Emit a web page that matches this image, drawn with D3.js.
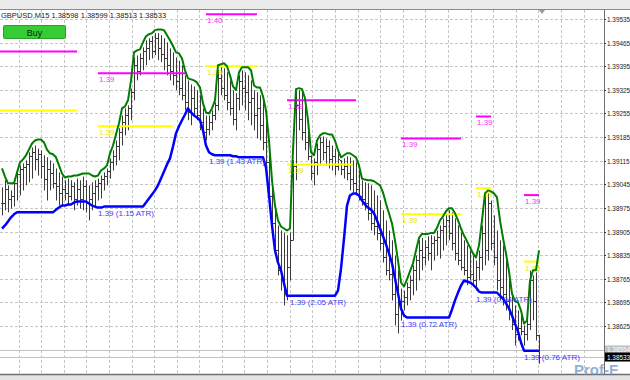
<!DOCTYPE html>
<html>
<head>
<meta charset="utf-8">
<script src="https://cdn.jsdelivr.net/npm/d3@7"></script>
<style>
  body { margin: 0; background: #fff; }
  svg { display: block; font-family: "Liberation Sans", Arial, sans-serif; }
</style>
</head>
<body>
<script>
// all prices below are in points above 1.38000 (1 point = 0.00001)
var base = 1.38;

var tickLabels = ["1.39535","1.39465","1.39395","1.39325","1.39255","1.39185","1.39115",
                  "1.39045","1.38975","1.38905","1.38835","1.38765","1.38695","1.38625"];

var title = "GBPUSD,M15  1.38598 1.38599 1.38513 1.38533";
var bidPrice = 533, askPrice = 554;

// bar highs / lows / closes, one per M15 bar
var highs = [1036,1057,1042,1027,1062,1086,1101,1107,1116,1140,
1154,1160,1151,1146,1131,1125,1116,1107,1092,1080,
1068,1057,1062,1057,1051,1062,1057,1068,1057,1042,
1051,1057,1062,1071,1080,1092,1122,1146,1175,1211,
1249,1270,1279,1329,1421,1427,1433,1451,1472,1478,
1484,1493,1493,1487,1478,1466,1448,1436,1421,1411,
1398,1368,1353,1341,1335,1324,1309,1270,1249,1249,
1264,1288,1383,1392,1389,1377,1353,1324,1315,1368,
1383,1377,1368,1353,1324,1318,1309,1294,1235,1146,
1042,968,923,908,902,894,902,1116,1318,1324,
1318,1279,1220,1131,1122,1166,1184,1187,1181,1175,
1160,1151,1140,1116,1122,1128,1125,1116,1110,1086,
1057,1051,1048,1042,1027,1012,997,968,938,908,
879,834,790,736,730,754,775,805,834,879,
886,879,891,894,891,908,923,944,959,968,
962,944,923,902,879,864,849,834,819,849,
923,1012,1018,997,953,908,879,864,819,775,
715,686,671,656,627,641,790,775,784,599];

var lows = [953,968,962,973,979,997,1012,1027,1042,1051,
1062,1086,1071,1062,1027,997,1027,1033,997,982,
982,997,982,997,968,982,973,968,962,938,
968,976,997,1003,1027,1042,1062,1086,1101,1116,
1160,1190,1205,1235,1294,1353,1368,1383,1398,1413,
1418,1428,1413,1407,1383,1368,1353,1338,1324,1309,
1294,1264,1235,1220,1249,1235,1205,1190,1175,1190,
1205,1235,1264,1309,1294,1264,1249,1220,1205,1264,
1279,1264,1235,1220,1205,1181,1175,1146,1101,997,
908,834,775,730,686,701,760,879,1057,1205,
1175,1146,1116,1057,1042,1072,1101,1116,1101,1092,
1086,1072,1086,1072,1062,1057,1027,1021,1012,997,
982,968,938,908,894,879,849,813,775,760,
701,627,603,641,671,686,701,716,730,760,
790,805,819,790,819,834,825,849,864,879,
849,819,805,790,775,746,760,746,730,760,
790,805,819,849,805,730,701,686,671,642,
613,567,582,597,567,582,613,642,582,513];

var closes = [990,1030,1000,1010,1050,1075,1090,1095,1105,1130,
1140,1120,1135,1100,1060,1090,1080,1050,1040,1020,
1030,1020,1010,1040,1000,1030,1000,1040,990,1000,
1020,1040,1050,1060,1070,1085,1110,1130,1160,1200,
1230,1250,1270,1320,1400,1380,1420,1440,1450,1470,
1440,1480,1450,1430,1420,1400,1380,1370,1350,1330,
1310,1290,1260,1300,1270,1250,1230,1200,1210,1230,
1250,1280,1360,1330,1310,1290,1270,1240,1300,1350,
1330,1320,1290,1300,1250,1270,1220,1170,1110,1010,
930,850,790,760,720,800,880,1100,1280,1240,
1200,1170,1130,1080,1110,1150,1170,1140,1160,1120,
1130,1100,1120,1090,1100,1080,1060,1050,1030,1010,
1000,990,960,930,920,900,870,830,790,780,
720,660,700,700,710,740,760,790,820,850,
830,860,840,870,880,890,910,920,940,900,
870,840,820,800,790,770,780,760,800,830,
900,850,990,870,830,760,740,720,700,660,
630,600,620,610,600,630,760,700,598,533];

// upper (green) and lower (blue) trailing lines
var greenLine = [1092,1068,1048,1048,1048,1080,1110,1119,1131,1148,
1166,1175,1178,1178,1169,1148,1137,1134,1125,1101,
1077,1065,1068,1068,1071,1071,1074,1077,1077,1077,
1071,1068,1071,1086,1092,1101,1137,1160,1193,1226,
1270,1276,1294,1353,1436,1442,1445,1466,1484,1490,
1493,1502,1504,1504,1502,1487,1472,1455,1436,1433,
1418,1383,1359,1356,1353,1347,1332,1285,1258,1255,
1270,1294,1398,1401,1404,1395,1368,1335,1324,1377,
1392,1392,1392,1383,1338,1332,1332,1306,1264,1175,
1057,982,938,920,914,908,914,1146,1327,1330,
1327,1300,1235,1140,1131,1175,1190,1196,1196,1193,
1193,1175,1146,1125,1131,1137,1137,1131,1125,1101,
1062,1059,1057,1057,1054,1048,1042,1021,988,959,
929,879,819,754,742,763,787,811,849,886,
898,898,898,901,901,916,938,950,965,974,
974,959,938,914,893,876,858,840,828,864,
938,1018,1027,1024,1018,1006,938,886,840,787,
721,698,695,671,632,641,760,790,790,849];

var blueLine = [914,923,935,947,956,962,962,962,962,962,
962,962,962,962,962,962,962,962,970,976,
982,982,985,985,991,994,994,994,994,988,
982,979,976,976,979,979,979,979,979,979,
979,979,979,979,979,979,979,979,991,1003,
1015,1027,1042,1062,1083,1104,1122,1157,1196,1217,
1235,1252,1270,1258,1249,1243,1235,1205,1160,1140,
1134,1131,1131,1131,1131,1131,1131,1128,1128,1125,
1125,1125,1125,1125,1125,1125,1125,1125,1095,1012,
923,849,813,790,751,715,715,715,715,715,
715,715,715,715,715,715,715,715,715,715,
715,715,730,795,884,982,1012,1018,1018,1012,
997,985,976,970,959,938,914,891,867,840,
811,766,721,677,656,650,650,650,650,650,
650,650,650,650,650,650,650,650,650,650,
674,701,724,745,760,757,754,748,739,727,
724,724,724,724,724,724,715,706,692,677,
656,632,609,576,552,552,552,552,552,552];

// level objects (bar index from / to)
var levelFrom = [-1, 32, 68, 95, 133, 158, 174];
var magentaTo = [25, 61, 85, 118, 153, 163, 179];
var yellowTo = [25, 57, 85, 117, 153, 163, 179];
var magentaLevels = [1439, 1374, 1549, 1294, 1181, 1246, 1013];
var yellowLevels = [1264, 1217, 1395, 1104, 956, 1033, 816];
var magentaText = ["", "1.39", "1.40", "1.39", "1.39", "1.39", "1.39"];
var yellowText = ["", "1.39", "1.39", "1.39", "1.39", "1.39", "1.39"];

// stop labels under the blue line
var atrIndex = [32, 69, 96, 133, 158, 174];
var atrLevel = [979, 1131, 715, 650, 724, 552];
var atrText = ["1.39 (1.15 ATR)", "1.39 (1.43 ATR)", "1.39 (2.05 ATR)",
               "1.39 (0.72 ATR)", "1.39 (0.94 ATR)", "1.39 (0.76 ATR)"];

var W = 630, H = 380;
var plotRight = 604, plotTop = 10, plotBottom = 374;

var svg = d3.select("body").append("svg")
  .attr("width", W)
  .attr("height", H);

var px = function(p){ return base + p / 100000; };

var x = d3.scaleLinear().domain([0, highs.length - 1]).range([2, 539]);
var y = d3.scaleLinear().domain([1.39535, 1.38625]).range([19, 326]);

// frame
svg.append("rect").attr("x", 0).attr("y", 0).attr("width", W).attr("height", H).attr("fill", "#ffffff");
svg.append("rect").attr("x", 0).attr("y", 0).attr("width", W).attr("height", plotTop).attr("fill", "#ececec");
svg.append("rect").attr("x", 0).attr("y", plotBottom).attr("width", W).attr("height", H - plotBottom).attr("fill", "#e4e4e4");

var plot = svg.append("g");
plot.append("clipPath").attr("id", "clip")
  .append("rect").attr("x", 0).attr("y", plotTop).attr("width", plotRight).attr("height", plotBottom - plotTop);

// grid
var grid = plot.append("g").attr("stroke", "#c6c6c6").attr("stroke-dasharray", "3,2").attr("stroke-width", 1);
tickLabels.forEach(function(t){
  var yy = Math.round(y(+t)) + 0.5;
  grid.append("line").attr("x1", 0).attr("x2", plotRight).attr("y1", yy).attr("y2", yy);
});
for (var gx = 18.5; gx < plotRight; gx += 22.6) {
  grid.append("line").attr("x1", Math.round(gx) + 0.5).attr("x2", Math.round(gx) + 0.5)
    .attr("y1", plotTop).attr("y2", plotBottom);
}

// ask / bid lines
[askPrice, bidPrice].forEach(function(p){
  var yy = Math.round(y(px(p))) + 0.5;
  plot.append("line").attr("x1", 0).attr("x2", plotRight).attr("y1", yy).attr("y2", yy)
    .attr("stroke", "#c0c0c0").attr("stroke-width", 1);
});

var body = plot.append("g").attr("clip-path", "url(#clip)");

// bars
var bars = body.append("g").attr("stroke", "#3a3a3a").attr("stroke-width", 1);
highs.forEach(function(h, i){
  var xx = Math.round(x(i)) + 0.5;
  var hi = y(px(h)), lo = y(px(lows[i]));
  var op = i > 0 ? closes[i - 1] : closes[0];
  var clamp = function(v){ return Math.max(hi, Math.min(lo, v)); };
  bars.append("line").attr("x1", xx).attr("x2", xx).attr("y1", hi).attr("y2", lo);
  var oy = Math.round(clamp(y(px(op)))) + 0.5;
  var cy = Math.round(clamp(y(px(closes[i])))) + 0.5;
  bars.append("line").attr("x1", xx - 1.5).attr("x2", xx).attr("y1", oy).attr("y2", oy);
  bars.append("line").attr("x1", xx).attr("x2", xx + 1.5).attr("y1", cy).attr("y2", cy);
});

// level objects
var drawLevels = function(levels, ends, texts, lineColor, textColor){
  levels.forEach(function(p, k){
    var yy = y(px(p));
    var x1 = x(levelFrom[k]), x2 = x(ends[k]);
    body.append("line").attr("x1", x1).attr("x2", x2).attr("y1", yy).attr("y2", yy)
      .attr("stroke", lineColor).attr("stroke-width", 2);
    if (texts[k] !== "") {
      body.append("text").attr("x", x1 + 1).attr("y", yy + 9)
        .attr("font-size", 8).attr("fill", textColor).text(texts[k]);
    }
  });
};
drawLevels(magentaLevels, magentaTo, magentaText, "#ff00ff", "#ff33ff");
drawLevels(yellowLevels, yellowTo, yellowText, "#ffff00", "#e8e800");

// trailing lines
var line = d3.line().x(function(d, i){ return x(i); }).y(function(d){ return y(px(d)); });
body.append("path").datum(greenLine).attr("d", line)
  .attr("fill", "none").attr("stroke", "#007d00").attr("stroke-width", 2).attr("stroke-linejoin", "round");
body.append("path").datum(blueLine).attr("d", line)
  .attr("fill", "none").attr("stroke", "#0000ff").attr("stroke-width", 2.5).attr("stroke-linejoin", "round");

atrText.forEach(function(t, k){
  body.append("text").attr("x", x(atrIndex[k]))
    .attr("y", y(px(atrLevel[k])) + 9)
    .attr("font-size", 8).attr("fill", "#3c3cff").text(t);
});

// borders
svg.append("line").attr("x1", 0).attr("x2", W).attr("y1", plotTop - 0.5).attr("y2", plotTop - 0.5)
  .attr("stroke", "#8a8a8a");
svg.append("line").attr("x1", 0).attr("x2", W).attr("y1", plotBottom + 0.5).attr("y2", plotBottom + 0.5)
  .attr("stroke", "#6e6e6e").attr("stroke-width", 1.5);
svg.append("line").attr("x1", plotRight + 0.5).attr("x2", plotRight + 0.5).attr("y1", plotTop).attr("y2", plotBottom)
  .attr("stroke", "#6e6e6e");

// price axis
var axis = svg.append("g");
tickLabels.forEach(function(t){
  var yy = Math.round(y(+t)) + 0.5;
  axis.append("line").attr("x1", plotRight).attr("x2", plotRight + 2).attr("y1", yy).attr("y2", yy).attr("stroke", "#333");
  axis.append("text").attr("x", plotRight + 3).attr("y", yy + 2.5)
    .attr("font-size", 6.4).attr("fill", "#222").text(t);
});
// ask / bid tags
var askY = y(px(askPrice)), bidY = y(px(bidPrice));
axis.append("rect").attr("x", plotRight + 1).attr("y", askY - 4.5).attr("width", W - plotRight).attr("height", 8).attr("fill", "#c0c0c0");
axis.append("text").attr("x", plotRight + 3).attr("y", askY + 2.5).attr("font-size", 6.4).attr("fill", "#ffffff").text((base + askPrice / 100000).toFixed(5));
axis.append("rect").attr("x", plotRight + 1).attr("y", bidY - 4.5).attr("width", W - plotRight).attr("height", 9).attr("fill", "#000000");
axis.append("text").attr("x", plotRight + 3).attr("y", bidY + 2.5).attr("font-size", 6.4).attr("fill", "#ffffff").text((base + bidPrice / 100000).toFixed(5));

// shift marker
svg.append("path").attr("d", "M539,10 L545,10 L542,14 Z").attr("fill", "#9a9a9a");

// title and buy button
svg.append("text").attr("x", 1).attr("y", 18).attr("font-size", 7.5).attr("fill", "#1a1a1a").text(title);
svg.append("rect").attr("x", 3.5).attr("y", 25.5).attr("width", 62).attr("height", 13)
  .attr("fill", "#35cc35").attr("stroke", "#2a9f2a").attr("rx", 1);
svg.append("text").attr("x", 34.5).attr("y", 35.5).attr("text-anchor", "middle")
  .attr("font-size", 9).attr("fill", "#0a2a0a").text("Buy");

// watermark
svg.append("text").attr("x", 574).attr("y", 375).attr("font-size", 15).attr("font-weight", "bold")
  .attr("fill", "#6b8fc0").attr("opacity", 0.7).text("Prof-F");
</script>
</body>
</html>
